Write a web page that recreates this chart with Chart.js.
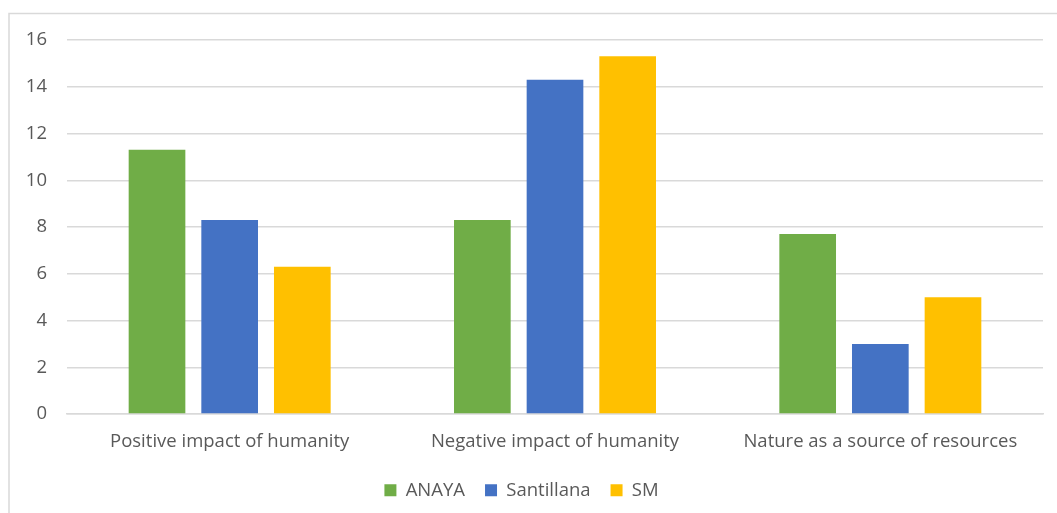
<!DOCTYPE html>
<html>
<head>
<meta charset="utf-8">
<script src="https://cdn.jsdelivr.net/npm/chart.js@4"></script>
<style>
  html, body { margin: 0; padding: 0; background: #fff; }
  #wrap { position: relative; width: 1057px; height: 513px; }
</style>
</head>
<body>
<div id="wrap"><canvas id="c" width="1057" height="513"></canvas></div>
<script>
const categories = ['Positive impact of humanity', 'Negative impact of humanity', 'Nature as a source of resources'];
const anaya = [11.3, 8.3, 7.7];
const santillana = [8.3, 14.3, 3.0];
const sm = [6.3, 15.3, 5.0];
const yTicks = [0, 2, 4, 6, 8, 10, 12, 14, 16];

const FONT = "'Open Sans', 'Liberation Sans', sans-serif";
const TEXT = '#595959';
const GRID = '#d9d9d9';

// Outer frame of the chart box
const framePlugin = {
  id: 'frame',
  beforeDraw(chart) {
    const ctx = chart.ctx;
    ctx.save();
    ctx.fillStyle = '#fff';
    ctx.fillRect(0, 0, chart.width, chart.height);
    ctx.strokeStyle = GRID;
    ctx.lineWidth = 1.5;
    ctx.strokeRect(9, 13.5, chart.width + 10, chart.height + 10);
    ctx.restore();
  }
};

new Chart(document.getElementById('c'), {
  type: 'bar',
  data: {
    labels: categories,
    datasets: [
      { label: 'ANAYA', data: anaya, backgroundColor: '#70ad47' },
      { label: 'Santillana', data: santillana, backgroundColor: '#4472c4' },
      { label: 'SM', data: sm, backgroundColor: '#ffc000' }
    ]
  },
  options: {
    responsive: false,
    animation: false,
    devicePixelRatio: 1,
    layout: { padding: { left: 0, right: 14, top: 40, bottom: 3.5 } },
    datasets: { bar: { categoryPercentage: 0.67, barPercentage: 0.78 } },
    scales: {
      x: {
        afterFit(scale) { scale.height = 47; },
        grid: { display: false, drawTicks: false },
        border: { display: true, color: GRID, width: 1.5 },
        ticks: { color: TEXT, font: { family: FONT, size: 18.5 }, padding: 17, maxRotation: 0 }
      },
      y: {
        min: 0, max: 16,
        afterBuildTicks(scale) { scale.ticks = yTicks.map(v => ({ value: v })); },
        afterFit(scale) { scale.width = 67; },
        grid: { color: GRID, lineWidth: 1.5, drawTicks: false },
        border: { display: false },
        ticks: { color: TEXT, font: { family: FONT, size: 18.5 }, padding: 20 }
      }
    },
    plugins: {
      legend: {
        position: 'bottom',
        labels: {
          color: TEXT, font: { family: FONT, size: 18.5 },
          boxWidth: 12, boxHeight: 12, padding: 20
        }
      },
      tooltip: { enabled: false }
    }
  },
  plugins: [framePlugin]
});
</script>
</body>
</html>
